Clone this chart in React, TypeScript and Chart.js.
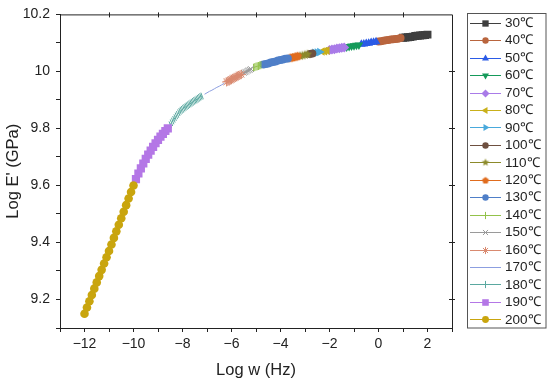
import React, { useEffect, useRef } from 'react';
import { Chart, registerables } from 'chart.js';
import { drawPoint } from 'chart.js/helpers';

Chart.register(...registerables);

// ---- data (log w in Hz, log E' in GPa) ----
const temps = ['30℃', '40℃', '50℃', '60℃', '70℃', '80℃', '90℃', '100℃', '110℃', '120℃', '130℃', '140℃', '150℃', '160℃', '170℃', '180℃', '190℃', '200℃'];

const x30 = [1.0, 1.1, 1.2, 1.3, 1.4, 1.5, 1.6, 1.7, 1.8, 1.9, 2.0];
const y30 = [10.118, 10.119, 10.12, 10.121, 10.122, 10.124, 10.125, 10.126, 10.127, 10.128, 10.129];
const x40 = [0.0, 0.1, 0.2, 0.3, 0.4, 0.5, 0.6, 0.7, 0.8, 0.9];
const y40 = [10.105, 10.106, 10.108, 10.109, 10.11, 10.112, 10.113, 10.114, 10.115, 10.117];
const x50 = [-0.7, -0.6, -0.5, -0.4, -0.3, -0.2, -0.1];
const y50 = [10.095, 10.096, 10.098, 10.099, 10.101, 10.102, 10.104];
const x60 = [-1.3, -1.2, -1.1, -1.0, -0.9, -0.8];
const y60 = [10.086, 10.087, 10.089, 10.09, 10.092, 10.093];
const x70 = [-2.0, -1.9, -1.8, -1.7, -1.6, -1.5, -1.4];
const y70 = [10.075, 10.077, 10.078, 10.08, 10.081, 10.083, 10.084];
const x80 = [-2.3, -2.2, -2.1];
const y80 = [10.07, 10.071, 10.073];
const x90 = [-2.6, -2.5, -2.4];
const y90 = [10.065, 10.066, 10.068];
const x100 = [-2.8, -2.7];
const y100 = [10.061, 10.063];
const x110 = [-3.2, -3.1, -3.0, -2.9];
const y110 = [10.054, 10.056, 10.058, 10.06];
const x120 = [-3.6, -3.5, -3.4, -3.3];
const y120 = [10.047, 10.049, 10.051, 10.053];
const x130 = [-4.7, -4.6, -4.5, -4.4, -4.3, -4.2, -4.1, -4.0, -3.9, -3.8, -3.7];
const y130 = [10.024, 10.026, 10.028, 10.031, 10.033, 10.035, 10.038, 10.04, 10.042, 10.044, 10.045];
const x140 = [-5.1, -5.05, -5.0, -4.95, -4.9, -4.85, -4.8];
const y140 = [10.013, 10.015, 10.017, 10.018, 10.019, 10.021, 10.022];
const x150 = [-5.5, -5.45, -5.4, -5.35, -5.3, -5.25, -5.2];
const y150 = [9.995, 9.997, 9.999, 10.002, 10.004, 10.006, 10.008];
const x160 = [-6.2, -6.15, -6.1, -6.05, -6.0, -5.95, -5.9, -5.85, -5.8, -5.75, -5.7, -5.65, -5.6];
const y160 = [9.963, 9.965, 9.967, 9.97, 9.972, 9.975, 9.977, 9.979, 9.981, 9.984, 9.986, 9.988, 9.99];
const x170 = [-7.1, -7.0, -6.9, -6.8, -6.7, -6.6, -6.5, -6.4, -6.3];
const y170 = [9.92, 9.925, 9.93, 9.934, 9.939, 9.944, 9.948, 9.953, 9.958];
const x180 = [-8.5, -8.45, -8.4, -8.35, -8.3, -8.25, -8.2, -8.15, -8.1, -8.05, -8.0, -7.95, -7.9, -7.85, -7.8, -7.75, -7.7, -7.65, -7.6, -7.55, -7.5, -7.45, -7.4, -7.35, -7.3, -7.25, -7.2];
const y180 = [9.813, 9.82, 9.826, 9.832, 9.838, 9.844, 9.849, 9.855, 9.86, 9.864, 9.867, 9.871, 9.874, 9.877, 9.88, 9.883, 9.886, 9.889, 9.892, 9.895, 9.898, 9.9, 9.903, 9.906, 9.909, 9.912, 9.914];
const x190 = [-9.9, -9.8, -9.7, -9.6, -9.5, -9.4, -9.3, -9.2, -9.1, -9.0, -8.9, -8.8, -8.7, -8.6];
const y190 = [9.622, 9.642, 9.66, 9.677, 9.693, 9.708, 9.722, 9.735, 9.748, 9.76, 9.771, 9.781, 9.791, 9.8];
const x200 = [-12.0, -11.9, -11.8, -11.7, -11.6, -11.5, -11.4, -11.3, -11.2, -11.1, -11.0, -10.9, -10.8, -10.7, -10.6, -10.5, -10.4, -10.3, -10.2, -10.1, -10.0];
const y200 = [9.15, 9.172, 9.194, 9.216, 9.238, 9.26, 9.282, 9.304, 9.326, 9.348, 9.37, 9.393, 9.416, 9.439, 9.462, 9.485, 9.508, 9.531, 9.554, 9.577, 9.6];

const xs = [x30, x40, x50, x60, x70, x80, x90, x100, x110, x120, x130, x140, x150, x160, x170, x180, x190, x200];
const ys = [y30, y40, y50, y60, y70, y80, y90, y100, y110, y120, y130, y140, y150, y160, y170, y180, y190, y200];

const colors = ['#3f3f3f', '#b9653e', '#2b5be6', '#159a5a', '#a97be8', '#c9b01a', '#49a9dc', '#6e5040', '#8c8a2a', '#e06c1e', '#4f7fc8', '#93c24a', '#9a9a9a', '#d98a70', '#8c9ee0', '#5aa8a0', '#b477e6', '#c9a50e'];
// marker style, radius, rotation
const styles: [string, number, number][] = [
  ['rect', 5.6, 0], ['circle', 4, 0], ['triangle', 5, 0], ['triangle', 5, 180], ['rectRot', 5, 0],
  ['triangle', 5, -90], ['triangle', 5, 90], ['circle', 4, 0], ['star5', 5, 0], ['pentagon', 4.5, 0],
  ['circle', 4, 0], ['line', 4, 90], ['crossRot', 4, 0], ['star', 4.5, 0], ['none', 0, 0],
  ['line', 3.5, 70], ['rect', 5.8, 0], ['circle', 4.3, 0],
];

const xMin = -13, xMax = 3, yMin = 9.1, yMax = 10.2;

function fmt(v: number) {
  return v < 0 ? '\u2212' + Math.abs(v) : String(v);
}

function makePoly(color: string, r: number, n: number, star: boolean) {
  const s = Math.ceil(r * 2 + 2);
  const c = document.createElement('canvas');
  c.width = s; c.height = s;
  const g = c.getContext('2d')!;
  g.fillStyle = color;
  g.beginPath();
  const pts = star ? n * 2 : n;
  for (let i = 0; i < pts; i++) {
    const a = -Math.PI / 2 + (i * 2 * Math.PI) / pts;
    const rr = star && i % 2 === 1 ? r * 0.45 : r;
    const px = s / 2 + rr * Math.cos(a);
    const py = s / 2 + rr * Math.sin(a);
    if (i === 0) g.moveTo(px, py); else g.lineTo(px, py);
  }
  g.closePath();
  g.fill();
  return c;
}

export default function App() {
  const ref = useRef<HTMLCanvasElement>(null);
  useEffect(() => {
    document.body.style.margin = '0';
    const canvas = ref.current!;
    const pointStyles: any[] = styles.map(([st, r], i) => {
      if (st === 'star5') return makePoly(colors[i], r, 5, true);
      if (st === 'pentagon') return makePoly(colors[i], r, 5, false);
      return st === 'none' ? false : st;
    });
    const legendStyles: any[] = styles.map(([st, r], i) => {
      if (st === 'star5') return makePoly(colors[i], r * 0.8, 5, true);
      if (st === 'pentagon') return makePoly(colors[i], r * 0.8, 5, false);
      return st === 'none' ? false : st;
    });
    const thin = (st: string) => st === 'line' || st === 'crossRot' || st === 'star';

    const datasets = temps.map((t, i) => ({
      label: t,
      data: xs[i].map((x, j) => ({ x, y: ys[i][j] })),
      showLine: true,
      borderColor: colors[i],
      backgroundColor: colors[i],
      borderWidth: 1,
      pointStyle: pointStyles[i],
      pointRadius: styles[i][0] === 'none' ? 0 : styles[i][1],
      pointRotation: styles[i][2],
      pointBorderWidth: thin(styles[i][0]) ? 1 : 0,
      pointBorderColor: colors[i],
      pointBackgroundColor: colors[i],
      order: temps.length - 1 - i,
    }));

    const framePlugin = {
      id: 'frame',
      afterDraw(chart: any) {
        const { ctx, chartArea: a, scales } = chart;
        ctx.save();
        ctx.strokeStyle = '#222';
        ctx.lineWidth = 1;
        ctx.beginPath();
        ctx.moveTo(a.left, a.top + 0.5);
        ctx.lineTo(a.right + 0.5, a.top + 0.5);
        ctx.lineTo(a.right + 0.5, a.bottom);
        ctx.stroke();
        ctx.beginPath();
        for (let v = -11; v <= 1; v += 2) {
          const px = Math.round(scales.x.getPixelForValue(v)) + 0.5;
          ctx.moveTo(px, a.top - 2);
          ctx.lineTo(px, a.top + 3);
        }
        for (let k = 92; k <= 100; k += 2) {
          const py = Math.round(scales.y.getPixelForValue(k / 10)) + 0.5;
          ctx.moveTo(a.right - 3, py);
          ctx.lineTo(a.right + 3, py);
        }
        ctx.stroke();

        // legend
        const lx = 467.5, ly = 13.5, lw = 78.5, lh = 314.5;
        ctx.strokeStyle = '#555';
        ctx.strokeRect(lx, ly, lw, lh);
        ctx.font = '13.5px "Liberation Sans", Arial, sans-serif';
        ctx.textBaseline = 'middle';
        ctx.textAlign = 'left';
        temps.forEach((t, i) => {
          const cy = 22.7 + i * 17.45;
          ctx.strokeStyle = colors[i];
          ctx.lineWidth = 1;
          ctx.beginPath();
          ctx.moveTo(470, Math.round(cy) + 0.5);
          ctx.lineTo(501, Math.round(cy) + 0.5);
          ctx.stroke();
          if (styles[i][0] !== 'none') {
            ctx.fillStyle = colors[i];
            ctx.strokeStyle = colors[i];
            ctx.lineWidth = 1;
            const st = styles[i][0];
            drawPoint(ctx, {
              pointStyle: legendStyles[i],
              radius: (thin(st) ? 4.5 : styles[i][1]) * 0.8,
              rotation: st === 'line' ? 90 : styles[i][2],
              borderWidth: thin(st) ? 1 : 0,
            } as any, 485.5, Math.round(cy) + 0.5);
          }
          ctx.fillStyle = '#222';
          ctx.fillText(t, 505, cy + 0.5);
        });
        ctx.restore();
      },
    };

    const chart = new Chart(canvas, {
      type: 'scatter',
      data: { datasets: datasets as any },
      options: {
        animation: false,
        responsive: false,
        devicePixelRatio: 1,
        layout: { padding: { top: 13, right: 98, left: 0, bottom: 0 } },
        plugins: { legend: { display: false }, tooltip: { enabled: false } },
        scales: {
          x: {
            type: 'linear',
            min: xMin,
            max: xMax,
            afterFit: (s: any) => { s.height = 55; },
            ticks: {
              stepSize: 1,
              autoSkip: false,
              maxRotation: 0,
              padding: 4,
              color: '#222',
              font: { family: '"Liberation Sans", Arial, sans-serif', size: 14 },
              callback: (v: any) => (Math.round(v) % 2 === 0 ? fmt(Math.round(v)) : ''),
            },
            grid: { drawOnChartArea: false, drawTicks: true, tickLength: 4, color: '#222' },
            border: { color: '#222', width: 1 },
            title: {
              display: true,
              text: 'Log w (Hz)',
              color: '#222',
              font: { family: '"Liberation Sans", Arial, sans-serif', size: 16.5 },
              padding: { top: 0, bottom: 3 },
            },
          },
          y: {
            type: 'linear',
            min: yMin,
            max: yMax,
            afterFit: (s: any) => { s.width = 60; },
            ticks: {
              stepSize: 0.1,
              autoSkip: false,
              padding: 6,
              color: '#222',
              font: { family: '"Liberation Sans", Arial, sans-serif', size: 14 },
              callback: (v: any) => {
                const r = Math.round(v * 10);
                return r % 2 === 0 ? String(r / 10) : '';
              },
            },
            grid: { drawOnChartArea: false, drawTicks: true, tickLength: 4, color: '#222' },
            border: { color: '#222', width: 1 },
            title: {
              display: true,
              text: "Log E' (GPa)",
              color: '#222',
              font: { family: '"Liberation Sans", Arial, sans-serif', size: 16.5 },
              padding: { top: 4, bottom: 0 },
            },
          },
        },
      },
      plugins: [framePlugin],
    });
    return () => chart.destroy();
  }, []);

  return (
    <div style={{ width: 550, height: 383 }}>
      <canvas ref={ref} width={550} height={383} style={{ display: 'block' }} />
    </div>
  );
}
